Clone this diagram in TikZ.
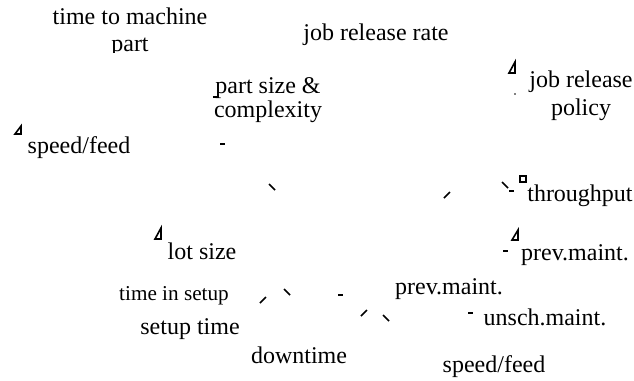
\documentclass[tikz,border=0pt]{standalone}
\usepackage{fontspec}
\setmainfont{Liberation Serif}
\tikzset{
  lbl/.style={anchor=base,inner sep=0pt,font=\fontsize{12}{14}\selectfont},
  smalllbl/.style={lbl,font=\fontsize{10.6}{12}\selectfont},
  frag/.style={line width=0.75pt},
  head/.style={line width=0.8pt,line join=miter}
}
\begin{document}
\begin{tikzpicture}[x=0.5pt,y=-0.5pt]
    \useasboundingbox (0,0) rectangle (634,381);
    % labels
    \node[lbl] (machine) at (130,24) {time to machine};
    \begin{scope}
      \clip (0,0) rectangle (634,52);
      \node[lbl] (machinepart) at (130,51) {part};
    \end{scope}
    \node[lbl] (rate) at (376,40) {job release rate};
    \node[lbl] (size) at (268,93) {part size \&};
    \node[lbl] (complexity) at (268,117) {complexity};
    \node[lbl] (policy) at (581,87) {job release};
    \node[lbl] (policyb) at (581,115) {policy};
    \node[lbl] (feed) at (79,153) {speed/feed};
    \node[lbl] (throughput) at (580,201) {throughput};
    \node[lbl] (lot) at (202,259) {lot size};
    \node[lbl] (prev) at (575,260) {prev.maint.};
    \node[smalllbl] (insetup) at (174,300) {time in setup};
    \node[lbl] (prevb) at (449,294) {prev.maint.};
    \node[lbl] (unsch) at (545,325) {unsch.maint.};
    \node[lbl] (setup) at (190,334) {setup time};
    \node[lbl] (down) at (299,363) {downtime};
    \node[lbl] (feedb) at (494,372) {speed/feed};
    % arrow tips
    \foreach \x/\y/\h in {21/134/8, 515/73/11, 161/239/11, 518/240/10} {
      \draw[head] (\x,\y-\h) -- (\x,\y) -- (\x-6,\y) -- cycle;
    }
    % short dashes
    \foreach \x/\y in {223/144, 512/191, 506/251, 341/295, 471/313} {
      \draw[frag] (\x-2.5,\y) -- (\x+2.5,\y);
    }
    \draw[frag] (213,97) -- (219,97);
    % slanted pieces
    \foreach \x/\y in {272/187, 505/185, 287/292, 386/318} {
      \draw[frag] (\x-3,\y-3) -- (\x+3,\y+3);
    }
    \foreach \x/\y in {447/195, 263/300, 364/313} {
      \draw[frag] (\x-3,\y+3) -- (\x+3,\y-3);
    }
    %
    \draw[frag] (520,176) rectangle (526,182);
    \fill (515,94) circle (0.8);
  \end{tikzpicture}
\end{document}
